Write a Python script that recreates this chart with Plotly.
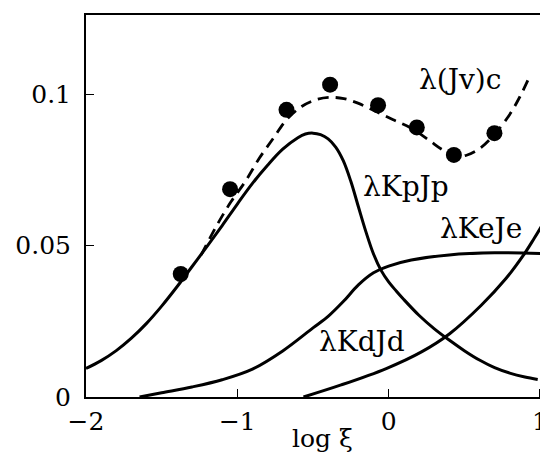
import plotly.graph_objects as go

# Data
dots_x = [-1.374, -1.048, -0.675, -0.387, -0.070, 0.186, 0.431, 0.699]
dots_y = [0.0406, 0.0686, 0.0948, 0.1031, 0.0963, 0.0890, 0.0799, 0.0871]

jv_x = [-1.239, -1.134, -1.041, -0.948, -0.855, -0.762, -0.675, -0.575, -0.482, -0.389,
        -0.296, -0.203, -0.086, 0.030, 0.147, 0.263, 0.356, 0.449, 0.519, 0.612,
        0.706, 0.799, 0.868, 0.927]
jv_y = [0.0469, 0.0568, 0.0645, 0.0711, 0.0788, 0.0854, 0.0915, 0.0959, 0.0981, 0.0989,
        0.0985, 0.0970, 0.0943, 0.0915, 0.0888, 0.0849, 0.0816, 0.0794, 0.0799, 0.0824,
        0.0871, 0.0932, 0.0992, 0.1053]

kp_x = [-2.0, -1.9, -1.8, -1.7, -1.6, -1.5, -1.4, -1.3, -1.2, -1.1, -1.0, -0.9, -0.8,
        -0.7, -0.6, -0.55, -0.5, -0.45, -0.4, -0.35, -0.3, -0.25, -0.2, -0.15, -0.1,
        -0.05, 0.0, 0.05, 0.1, 0.2, 0.3, 0.4, 0.5, 0.6, 0.7, 0.8, 0.9, 0.985]
kp_y = [0.0094, 0.0120, 0.0153, 0.0194, 0.0243, 0.0300, 0.0363, 0.0430, 0.0497, 0.0566,
        0.0637, 0.0705, 0.0765, 0.0818, 0.0856, 0.0868, 0.0871, 0.0866, 0.0852, 0.0825,
        0.0780, 0.0712, 0.0628, 0.0545, 0.0472, 0.0418, 0.0380, 0.0350, 0.0322, 0.0270,
        0.0226, 0.0188, 0.0153, 0.0122, 0.0097, 0.0079, 0.0066, 0.0058]

kd_x = [-1.646, -1.5, -1.3, -1.1, -0.9, -0.7, -0.5, -0.4, -0.3, -0.2, -0.1, 0.0,
        0.15, 0.4, 0.7, 1.008]
kd_y = [0.0, 0.0014, 0.0033, 0.0057, 0.0092, 0.0152, 0.0228, 0.0266, 0.0315, 0.0370,
        0.0410, 0.0432, 0.0452, 0.0469, 0.0476, 0.0474]

ke_x = [-0.563, -0.319, -0.016, 0.217, 0.403, 0.612, 0.775, 0.892, 0.962, 1.008]
ke_y = [0.0, 0.0039, 0.0094, 0.0149, 0.0209, 0.0303, 0.0391, 0.0469, 0.0524, 0.0562]

labels = ["λ(Jv)c", "λKpJp", "λKeJe", "λKdJd"]
label_x = [0.473, 0.112, 0.612, -0.179]
label_y = [0.1047, 0.0695, 0.0557, 0.0182]

x_ticks = [-2, -1, 0, 1]
x_tick_text = ["−2", "−1", "0", "1"]
y_ticks = [0, 0.05, 0.1]
y_tick_text = ["0", "0.05", "0.1"]
x_title = "log ξ"

FONT = "DejaVu Serif"
fig = go.Figure()
line = dict(color="black", width=3, shape="spline", smoothing=1.0)
fig.add_trace(go.Scatter(x=kp_x, y=kp_y, mode="lines", line=line, name="λKpJp"))
fig.add_trace(go.Scatter(x=kd_x, y=kd_y, mode="lines", line=line, name="λKdJd"))
fig.add_trace(go.Scatter(x=ke_x, y=ke_y, mode="lines", line=line, name="λKeJe"))
fig.add_trace(go.Scatter(x=jv_x, y=jv_y, mode="lines",
                         line=dict(color="black", width=2.8, dash="11px,7px", shape="spline", smoothing=1.0),
                         name="λ(Jv)c"))
fig.add_trace(go.Scatter(x=dots_x, y=dots_y, mode="markers",
                         marker=dict(color="black", size=16), name="data"))

for t, x, y in zip(labels, label_x, label_y):
    fig.add_annotation(x=x, y=y, text=t, showarrow=False,
                       font=dict(family=FONT, size=28, color="black"))

fig.add_annotation(xref="paper", yref="paper", x=0.511, y=-0.108, text=x_title,
                   showarrow=False, yanchor="middle",
                   font=dict(family=FONT, size=25, color="black"))

fig.update_layout(
    width=548, height=454,
    margin=dict(l=78, r=8, t=7, b=65, autoexpand=False),
    paper_bgcolor="white", plot_bgcolor="white",
    showlegend=False,
    font=dict(family=FONT, size=25, color="black"),
)
fig.update_xaxes(range=[-2, 1.053], tickvals=x_ticks, ticktext=x_tick_text,
                 showgrid=False, zeroline=False, showline=True, linecolor="black",
                 linewidth=2, mirror=True, ticks="inside", ticklen=8, tickwidth=1,
                 tickcolor="black", tickfont=dict(family=FONT, size=25),
                 ticklabelstandoff=1, automargin=False)
fig.update_yaxes(range=[0, 0.1261], tickvals=y_ticks, ticktext=y_tick_text,
                 showgrid=False, zeroline=False, showline=True, linecolor="black",
                 linewidth=2, mirror=True, ticks="inside", ticklen=8, tickwidth=1,
                 tickcolor="black", tickfont=dict(family=FONT, size=25),
                 ticklabelstandoff=8, automargin=False)

fig.write_html("out.html")
